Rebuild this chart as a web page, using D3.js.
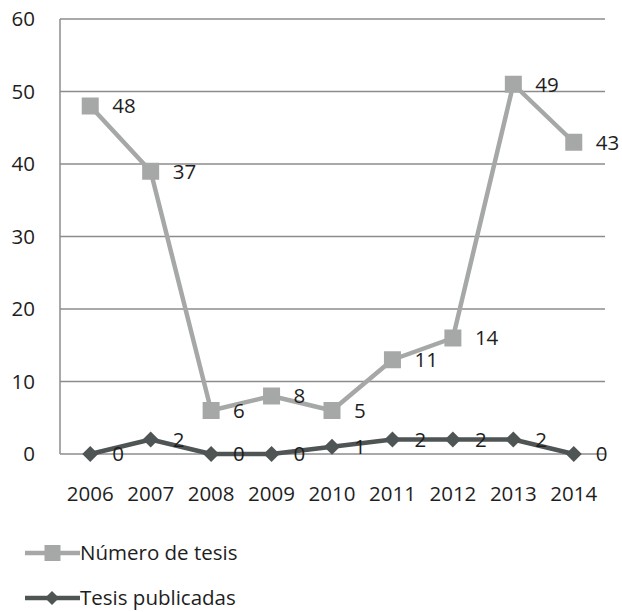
<!DOCTYPE html>
<html><head><meta charset="utf-8">
<script src="https://cdn.jsdelivr.net/npm/d3@7"></script>
<style>
html,body{margin:0;padding:0;background:#fff;}
text{font-family:"Open Sans","Liberation Sans",sans-serif;}
</style></head>
<body>
<svg id="c" width="622" height="612"></svg>
<script>
const years = ["2006","2007","2008","2009","2010","2011","2012","2013","2014"];
const numeroTesis = [48,37,6,8,5,11,14,49,43];
const tesisPublicadas = [0,2,0,0,1,2,2,2,0];
const yTicks = [0,10,20,30,40,50,60];
const seriesNames = ["Número de tesis","Tesis publicadas"];

(function(){
const svg = d3.select("#c");
const pL = 60, pR = 604, pT = 19, pB = 454;
const x = d3.scaleBand().domain(years).range([pL, pR]);
const y = d3.scaleLinear().domain([0,60]).range([pB, pT]);
const cx = d => x(d) + x.bandwidth()/2;
const fs = 20.5;
const txt = "#1e1e1e";

// gridlines
svg.append("g").selectAll("line").data(yTicks).join("line")
  .attr("x1", pL).attr("x2", pR+1)
  .attr("y1", d=>y(d)).attr("y2", d=>y(d))
  .attr("stroke","#8c8c8c").attr("stroke-width",1.5);
svg.append("line").attr("x1",pL).attr("x2",pL).attr("y1",pT).attr("y2",pB)
  .attr("stroke","#8c8c8c").attr("stroke-width",1.5);

// y labels
svg.append("g").selectAll("text").data(yTicks).join("text")
  .attr("x", 35).attr("y", d=>y(d)).attr("dy","0.36em")
  .attr("text-anchor","end").attr("font-size",fs).attr("fill",txt)
  .text(d=>d);
// x labels
svg.append("g").selectAll("text").data(years).join("text")
  .attr("x", d=>cx(d)).attr("y", 500.5)
  .attr("text-anchor","middle").attr("font-size",fs).attr("fill",txt)
  .text(d=>d);

const gray = "#a6a8a8", dark = "#4f5455";
// stacked values
const stack1 = numeroTesis.map((v,i)=>v + tesisPublicadas[i]);
const line = d3.line().x((d,i)=>cx(years[i])).y(d=>y(d));

// series 1 (Número de tesis), stacked on top
svg.append("path").datum(stack1).attr("d", line).attr("fill","none")
  .attr("stroke", gray).attr("stroke-width",4.5).attr("stroke-linejoin","round");
svg.append("g").selectAll("rect").data(stack1).join("rect")
  .attr("x",(d,i)=>cx(years[i])-8.5).attr("y",d=>y(d)-8.5)
  .attr("width",17).attr("height",17).attr("fill",gray);
svg.append("g").selectAll("text").data(numeroTesis).join("text")
  .attr("x",(d,i)=>cx(years[i])+22).attr("y",(d,i)=>y(stack1[i])).attr("dy","0.36em")
  .attr("font-size",fs).attr("fill",txt).text(d=>d);

// series 2 (Tesis publicadas)
svg.append("path").datum(tesisPublicadas).attr("d", line).attr("fill","none")
  .attr("stroke", dark).attr("stroke-width",4.5).attr("stroke-linejoin","round");
svg.append("g").selectAll("path.dm").data(tesisPublicadas).join("path")
  .attr("class","dm")
  .attr("d","M0,-8L8,0L0,8L-8,0Z")
  .attr("transform",(d,i)=>`translate(${cx(years[i])},${y(d)})`)
  .attr("fill",dark);
svg.append("g").selectAll("text").data(tesisPublicadas).join("text")
  .attr("x",(d,i)=>cx(years[i])+22).attr("y",d=>y(d)).attr("dy","0.36em")
  .attr("font-size",fs).attr("fill",txt).text(d=>d);

// legend
const leg = [{name:seriesNames[0], color:gray, shape:"square", y:553},
             {name:seriesNames[1], color:dark, shape:"diamond", y:598}];
const lg = svg.append("g");
leg.forEach(l=>{
  lg.append("line").attr("x1",25).attr("x2",80).attr("y1",l.y).attr("y2",l.y)
    .attr("stroke",l.color).attr("stroke-width",4.5);
  if(l.shape==="square"){
    lg.append("rect").attr("x",52.5-8).attr("y",l.y-8).attr("width",16).attr("height",16).attr("fill",l.color);
  } else {
    lg.append("path").attr("d","M0,-7L7,0L0,7L-7,0Z").attr("transform",`translate(52,${l.y})`).attr("fill",l.color);
  }
  lg.append("text").attr("x",80).attr("y",l.y).attr("dy","0.36em")
    .attr("font-size",fs).attr("fill",txt).text(l.name);
});
})();
</script>
</body></html>
